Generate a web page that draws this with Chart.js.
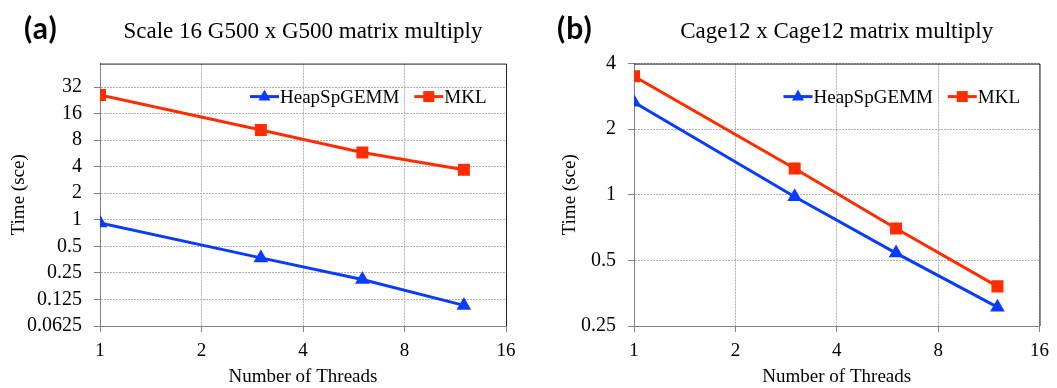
<!DOCTYPE html>
<html>
<head>
<meta charset="utf-8">
<script src="https://cdn.jsdelivr.net/npm/chart.js@4.4.1/dist/chart.umd.min.js"></script>
<style>
    body { margin: 0; background: #fff; }
    #wrap { position: relative; width: 1057px; height: 388px; overflow: hidden; }
    .panel { position: absolute; top: 0; height: 388px; }
    .tag { position: absolute; top: 9px; font: bold 30px Lato, "Open Sans", sans-serif; letter-spacing: 1px; color: #000; }
</style>
</head>
<body>
<div id="wrap">
    <div class="panel" style="left:0;width:528px"><canvas id="chartA"></canvas></div>
    <div class="panel" style="left:528px;width:529px"><canvas id="chartB"></canvas></div>
    <div class="tag" style="left:24px">(a)</div>
    <div class="tag" style="left:557px">(b)</div>
</div>
<script>
// thread counts used on the x axis
const threads = [1, 3, 6, 12];
const xTicks = [1, 2, 4, 8, 16];

// (a) Scale 16 G500 x G500
const heapA = [0.92, 0.37, 0.21, 0.107];
const mklA = [26, 10.4, 5.8, 3.7];
const yTicksA = [0.0625, 0.125, 0.25, 0.5, 1, 2, 4, 8, 16, 32];
const yLabelsA = ['0.0625', '0.125', '0.25', '0.5', '1', '2', '4', '8', '16', '32'];

// (b) Cage12 x Cage12
const heapB = [2.66, 0.98, 0.54, 0.305];
const mklB = [3.5, 1.32, 0.70, 0.38];
const yTicksB = [0.25, 0.5, 1, 2, 4];
const yLabelsB = ['0.25', '0.5', '1', '2', '4'];

const BLUE = '#0a3cff';
const RED = '#ff2d00';
const SERIF = '"Liberation Serif", "Times New Roman", serif';

// dark frame on top and right of the plot area
const framePlugin = {
    id: 'frame',
    beforeDatasetsDraw(chart) {
        const { ctx, chartArea: a } = chart;
        ctx.save();
        ctx.strokeStyle = '#222';
        ctx.lineWidth = 1;
        ctx.beginPath();
        ctx.moveTo(a.left, a.top + 0.5);
        ctx.lineTo(a.right + 0.5, a.top + 0.5);
        ctx.lineTo(a.right + 0.5, a.bottom);
        ctx.stroke();
        ctx.restore();
    }
};

// legend drawn inside the plot area, line with marker in the middle
const legendPlugin = {
    id: 'inLegend',
    afterDatasetsDraw(chart) {
        const { ctx, chartArea: a } = chart;
        let x = a.right - 256;
        const y = a.top + 33;
        ctx.save();
        ctx.font = '19px ' + SERIF;
        ctx.textBaseline = 'middle';
        chart.data.datasets.forEach(ds => {
            ctx.strokeStyle = ds.borderColor;
            ctx.fillStyle = ds.borderColor;
            ctx.lineWidth = 3;
            ctx.beginPath();
            ctx.moveTo(x, y);
            ctx.lineTo(x + 29, y);
            ctx.stroke();
            const cx = x + 14.5;
            if (ds.pointStyle === 'triangle') {
                ctx.beginPath();
                ctx.moveTo(cx, y - 7);
                ctx.lineTo(cx + 6, y + 4);
                ctx.lineTo(cx - 6, y + 4);
                ctx.closePath();
                ctx.fill();
            } else {
                ctx.fillRect(cx - 5.5, y - 5.5, 11, 11);
            }
            ctx.fillStyle = '#000';
            ctx.fillText(ds.label, x + 30, y + 1);
            x += 30 + ctx.measureText(ds.label).width + 15;
        });
        ctx.restore();
    }
};

const makeChart = (id, title, heap, mkl, yTicks, yLabels, yMax, opts) => {
    const ctx = document.getElementById(id).getContext('2d');
    return new Chart(ctx, {
        type: 'line',
        data: {
            datasets: [{
                label: 'HeapSpGEMM',
                data: threads.map((t, i) => ({ x: t, y: heap[i] })),
                borderColor: BLUE,
                backgroundColor: BLUE,
                borderWidth: 3,
                pointStyle: 'triangle',
                pointRadius: 8.5,
                pointBorderWidth: 0,
                pointHoverRadius: 8.5
            }, {
                label: 'MKL',
                data: threads.map((t, i) => ({ x: t, y: mkl[i] })),
                borderColor: RED,
                backgroundColor: RED,
                borderWidth: 3,
                pointStyle: 'rect',
                pointRadius: 8.5,
                pointBorderWidth: 0,
                pointHoverRadius: 8.5
            }]
        },
        options: {
            responsive: false,
            animation: false,
            maintainAspectRatio: false,
            layout: { padding: { top: 0, left: 0, bottom: 0, right: opts.padRight } },
            plugins: {
                legend: { display: false },
                tooltip: { enabled: false },
                title: {
                    display: true,
                    text: title,
                    fullSize: false,
                    color: '#000',
                    font: { family: SERIF, size: 23, weight: 'normal' },
                    padding: { top: 18, bottom: 18 }
                }
            },
            scales: {
                x: {
                    type: 'logarithmic',
                    min: 1,
                    max: 16,
                    afterBuildTicks: (scale) => { scale.ticks = xTicks.map(v => ({ value: v })); },
                    afterFit: (scale) => { scale.height = 62; },
                    ticks: {
                        color: '#000',
                        font: { family: SERIF, size: 19 },
                        padding: 8,
                        maxRotation: 0,
                        callback: (v) => String(v)
                    },
                    grid: { color: '#b0b0b0', tickColor: '#808080', tickLength: 6 },
                    border: { color: '#808080', width: 1, dash: [2, 1] },
                    title: {
                        display: true,
                        text: 'Number of Threads',
                        color: '#000',
                        font: { family: SERIF, size: 19 },
                        padding: { top: 0, bottom: 0 }
                    }
                },
                y: {
                    type: 'logarithmic',
                    min: yTicks[0],
                    max: yMax,
                    afterBuildTicks: (scale) => { scale.ticks = yTicks.map(v => ({ value: v })); },
                    afterFit: (scale) => { scale.width = opts.yWidth; },
                    ticks: {
                        color: '#000',
                        font: { family: SERIF, size: 20 },
                        padding: 12,
                        callback: (v, i) => yLabels[i]
                    },
                    grid: { color: '#b0b0b0', tickColor: '#808080', tickLength: 6 },
                    border: { color: '#808080', width: 1, dash: [2, 1] },
                    title: {
                        display: true,
                        text: 'Time (sce)',
                        color: '#000',
                        font: { family: SERIF, size: 19 },
                        padding: { top: opts.yTitlePad, bottom: 0 }
                    }
                }
            }
        },
        plugins: [framePlugin, legendPlugin]
    });
};

const cA = document.getElementById('chartA');
cA.width = 528; cA.height = 388;
const cB = document.getElementById('chartB');
cB.width = 529; cB.height = 388;

makeChart('chartA', 'Scale 16 G500 x G500 matrix multiply', heapA, mklA, yTicksA, yLabelsA, 59,
    { padRight: 22, yWidth: 100, yTitlePad: 8 });
makeChart('chartB', 'Cage12 x Cage12 matrix multiply', heapB, mklB, yTicksB, yLabelsB, 4,
    { padRight: 15, yWidth: 106, yTitlePad: 31 });
</script>
</body>
</html>
